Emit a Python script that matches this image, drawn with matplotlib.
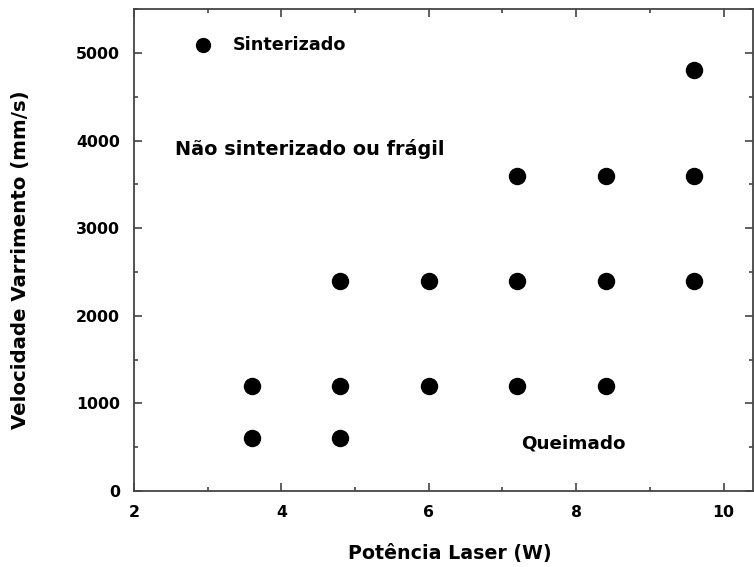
import numpy as np
import matplotlib.pyplot as plt
from matplotlib.ticker import MultipleLocator

# laser power (W) and scan speed (mm/s) of the sintered samples
potencia = [3.6, 4.8, 3.6, 4.8, 6.0, 7.2, 8.4, 4.8, 6.0, 7.2, 8.4, 9.6, 7.2, 8.4, 9.6, 9.6]
velocidade = [600, 600, 1200, 1200, 1200, 1200, 1200, 2400, 2400, 2400, 2400, 2400, 3600, 3600, 3600, 4800]

plt.rcParams['font.family'] = ['DejaVu Sans']
plt.rcParams['font.weight'] = 'bold'

fig = plt.figure(figsize=(7.54, 5.67), dpi=100)
ax = fig.add_axes([0.1777, 0.134, 0.821, 0.850])

ax.scatter(potencia, velocidade, s=133, color='black', zorder=3)

# legend drawn by hand like the original
ax.scatter([2.935], [5090], s=100, color='black')
ax.text(3.34, 5090, "Sinterizado", fontsize=12.7, fontweight='bold', va='center')

ax.text(2.556, 3898, "Não sinterizado ou frágil", fontsize=13.9, fontweight='bold', va='center')
ax.text(7.257, 545, "Queimado", fontsize=13.2, fontweight='bold', va='center')

ax.set_xlim(2, 10.4)
ax.set_ylim(0, 5500)
ax.xaxis.set_major_locator(MultipleLocator(2))
ax.xaxis.set_minor_locator(MultipleLocator(1))
ax.yaxis.set_major_locator(MultipleLocator(1000))
ax.yaxis.set_minor_locator(MultipleLocator(500))
ax.tick_params(which='both', direction='in', top=True, right=True, width=1.2, color='#444444')
ax.tick_params(which='major', length=6, labelsize=11.3, pad=10)
ax.tick_params(which='minor', length=3)
for lbl in ax.get_xticklabels() + ax.get_yticklabels():
    lbl.set_fontweight('bold')
for sp in ax.spines.values():
    sp.set_linewidth(1.3)
    sp.set_color('#444444')

ax.set_xlabel("Potência Laser (W)", fontsize=13.7, fontweight='bold')
ax.set_ylabel("Velocidade Varrimento (mm/s)", fontsize=14.2, fontweight='bold')
ax.xaxis.set_label_coords(0.51, -0.129)
ax.xaxis.label.set_va('center')
ax.yaxis.set_label_coords(-0.183, 0.48)
ax.yaxis.label.set_va('center')
ax.yaxis.label.set_ha('center')

plt.savefig("out.png", dpi=100)
